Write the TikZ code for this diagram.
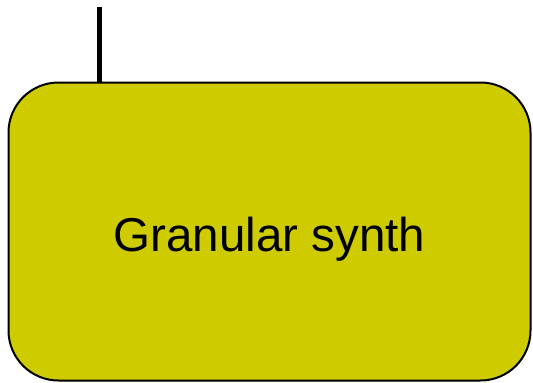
\documentclass[tikz,border=0pt]{standalone}
\usepackage{fontspec}
\setmainfont{Liberation Sans}
\usepackage{tikz}
\definecolor{synthfill}{RGB}{206,204,0}

\begin{document}
\begin{tikzpicture}[line cap=round,line join=round,x=1pt,y=-1pt]
\useasboundingbox (0,0) rectangle (533,383);
\tikzset{synthbox/.style={draw=black, line width=2pt, fill=synthfill, rounded corners=50pt,
    minimum width=522pt, minimum height=298pt, inner sep=0pt,
    font=\fontsize{47.5}{56}\selectfont, text height=40pt, text depth=0pt}}
\node[synthbox] (synth) at (269.5,231.5) {Granular synth};
\coordinate (feed) at (99,7);
\draw[line width=5pt, line cap=butt] (feed) -- (feed |- synth.north);
\end{tikzpicture}
\end{document}
